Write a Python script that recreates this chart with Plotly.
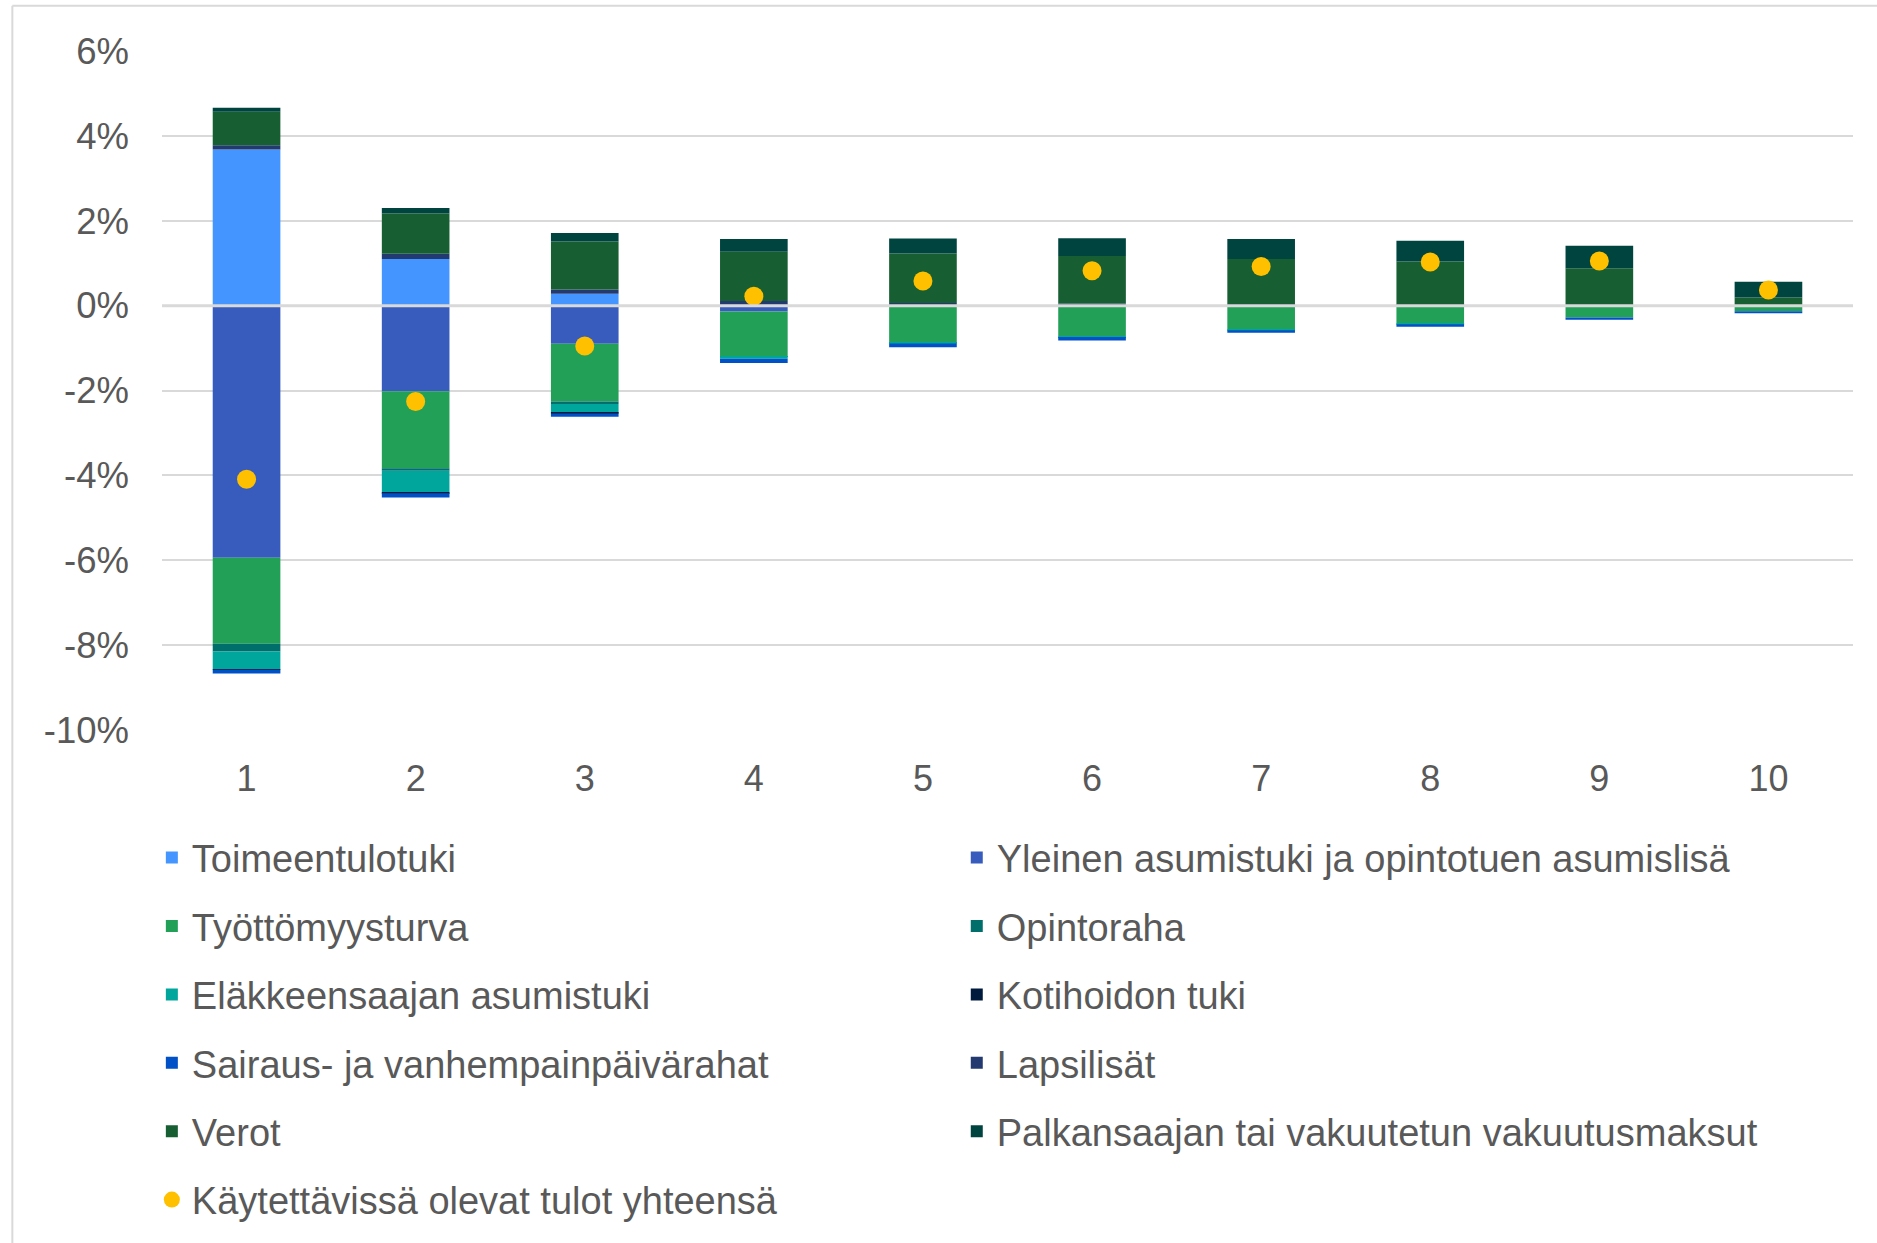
import plotly.graph_objects as go

deciles = ["1", "2", "3", "4", "5", "6", "7", "8", "9", "10"]
y_tick_values = [-10, -8, -6, -4, -2, 0, 2, 4, 6]
y_tick_labels = ["-10%", "-8%", "-6%", "-4%", "-2%", "0%", "2%", "4%", "6%"]

toimeentulotuki = [3.68, 1.10, 0.28, 0.02, 0.01, 0.0, 0.0, 0.0, 0.0, 0.0]
yleinen_asumistuki = [-5.94, -2.02, -0.90, -0.14, -0.02, -0.01, 0.0, 0.0, 0.0, 0.0]
tyottomyysturva = [-2.03, -1.81, -1.36, -1.06, -0.84, -0.72, -0.57, -0.43, -0.28, -0.13]
opintoraha = [-0.18, -0.06, -0.06, -0.01, -0.01, 0.0, 0.0, 0.0, 0.0, 0.0]
elakkeensaajan_asumistuki = [-0.42, -0.52, -0.21, -0.04, -0.02, -0.01, -0.01, -0.01, 0.0, 0.0]
kotihoidon_tuki = [-0.01, -0.01, -0.01, 0.0, 0.0, 0.0, 0.0, 0.0, 0.0, 0.0]
sairaus_paivarahat = [-0.09, -0.10, -0.08, -0.10, -0.09, -0.08, -0.06, -0.06, -0.05, -0.05]
lapsilisat = [0.10, 0.12, 0.10, 0.09, 0.05, 0.05, 0.03, 0.02, 0.01, 0.01]
verot = [0.79, 0.95, 1.13, 1.16, 1.17, 1.12, 1.07, 1.02, 0.87, 0.18]
vakuutusmaksut = [0.09, 0.13, 0.20, 0.30, 0.35, 0.42, 0.47, 0.49, 0.53, 0.37]
kaytettavissa_yhteensa = [-4.09, -2.26, -0.95, 0.22, 0.58, 0.82, 0.92, 1.03, 1.05, 0.37]

series = [
    ("Toimeentulotuki", toimeentulotuki, "#4495FF", "legend"),
    ("Yleinen asumistuki ja opintotuen asumislisä", yleinen_asumistuki, "#385BBE", "legend2"),
    ("Työttömyysturva", tyottomyysturva, "#23A057", "legend"),
    ("Opintoraha", opintoraha, "#006E6B", "legend2"),
    ("Eläkkeensaajan asumistuki", elakkeensaajan_asumistuki, "#00A59B", "legend"),
    ("Kotihoidon tuki", kotihoidon_tuki, "#001A3D", "legend2"),
    ("Sairaus- ja vanhempainpäivärahat", sairaus_paivarahat, "#0050C8", "legend"),
    ("Lapsilisät", lapsilisat, "#233A70", "legend2"),
    ("Verot", verot, "#175F33", "legend"),
    ("Palkansaajan tai vakuutetun vakuutusmaksut", vakuutusmaksut, "#004440", "legend2"),
]

fig = go.Figure()
for i, (name, vals, color, leg) in enumerate(series):
    fig.add_trace(go.Bar(
        x=deciles, y=vals, name=name, marker_color=color,
        marker_line_width=0, legend=leg, legendgroup=f"g{i}",
    ))

fig.add_trace(go.Scatter(
    x=deciles, y=kaytettavissa_yhteensa, mode="markers",
    name="Käytettävissä olevat tulot yhteensä",
    marker=dict(color="#FFC000", size=19, symbol="circle"),
    legend="legend", legendgroup="gdot",
))

text_color = "#595959"
font_family = "Liberation Sans, Arial, sans-serif"

legend_common = dict(
    orientation="v", xanchor="left", yanchor="top",
    font=dict(family=font_family, size=38, color=text_color),
    tracegroupgap=16, bgcolor="rgba(0,0,0,0)", itemwidth=30,
)

fig.update_layout(
    width=1877, height=1243,
    margin=dict(l=162, r=24, t=51, b=509),
    paper_bgcolor="white", plot_bgcolor="white",
    barmode="relative", bargap=0.6,
    font=dict(family=font_family, size=36, color=text_color),
    showlegend=True,
    legend=dict(x=-0.006, y=-0.142, **legend_common),
    legend2=dict(x=0.470, y=-0.142, **legend_common),
    xaxis=dict(
        type="category", showgrid=False, zeroline=False, showline=False,
        range=[-0.5, len(deciles) - 0.5],
        ticks="", ticklabelstandoff=24,
        tickfont=dict(size=36, color=text_color),
    ),
    yaxis=dict(
        range=[-10, 6], tickmode="array", tickvals=y_tick_values, ticktext=y_tick_labels,
        showgrid=True, gridcolor="#D9D9D9", gridwidth=2,
        zeroline=False, showline=False, ticks="", ticklabelstandoff=32,
        tickfont=dict(size=36.5, color=text_color),
    ),
    shapes=[
        dict(type="line", xref="paper", yref="y", x0=0, x1=1, y0=0, y1=0,
             line=dict(color="#D9D9D9", width=3), layer="above"),
        dict(type="line", xref="paper", yref="paper", x0=-0.0885, x1=-0.0885,
             y0=-0.76, y1=1.0668, line=dict(color="#D9D9D9", width=2)),
        dict(type="line", xref="paper", yref="paper", x0=-0.0885, x1=1.02,
             y0=1.0668, y1=1.0668, line=dict(color="#D9D9D9", width=2)),
    ],
)

fig.write_html(
    "out.html",
    config={"displayModeBar": False},
    post_script="document.body.style.margin='0';document.body.style.overflow='hidden';",
)
